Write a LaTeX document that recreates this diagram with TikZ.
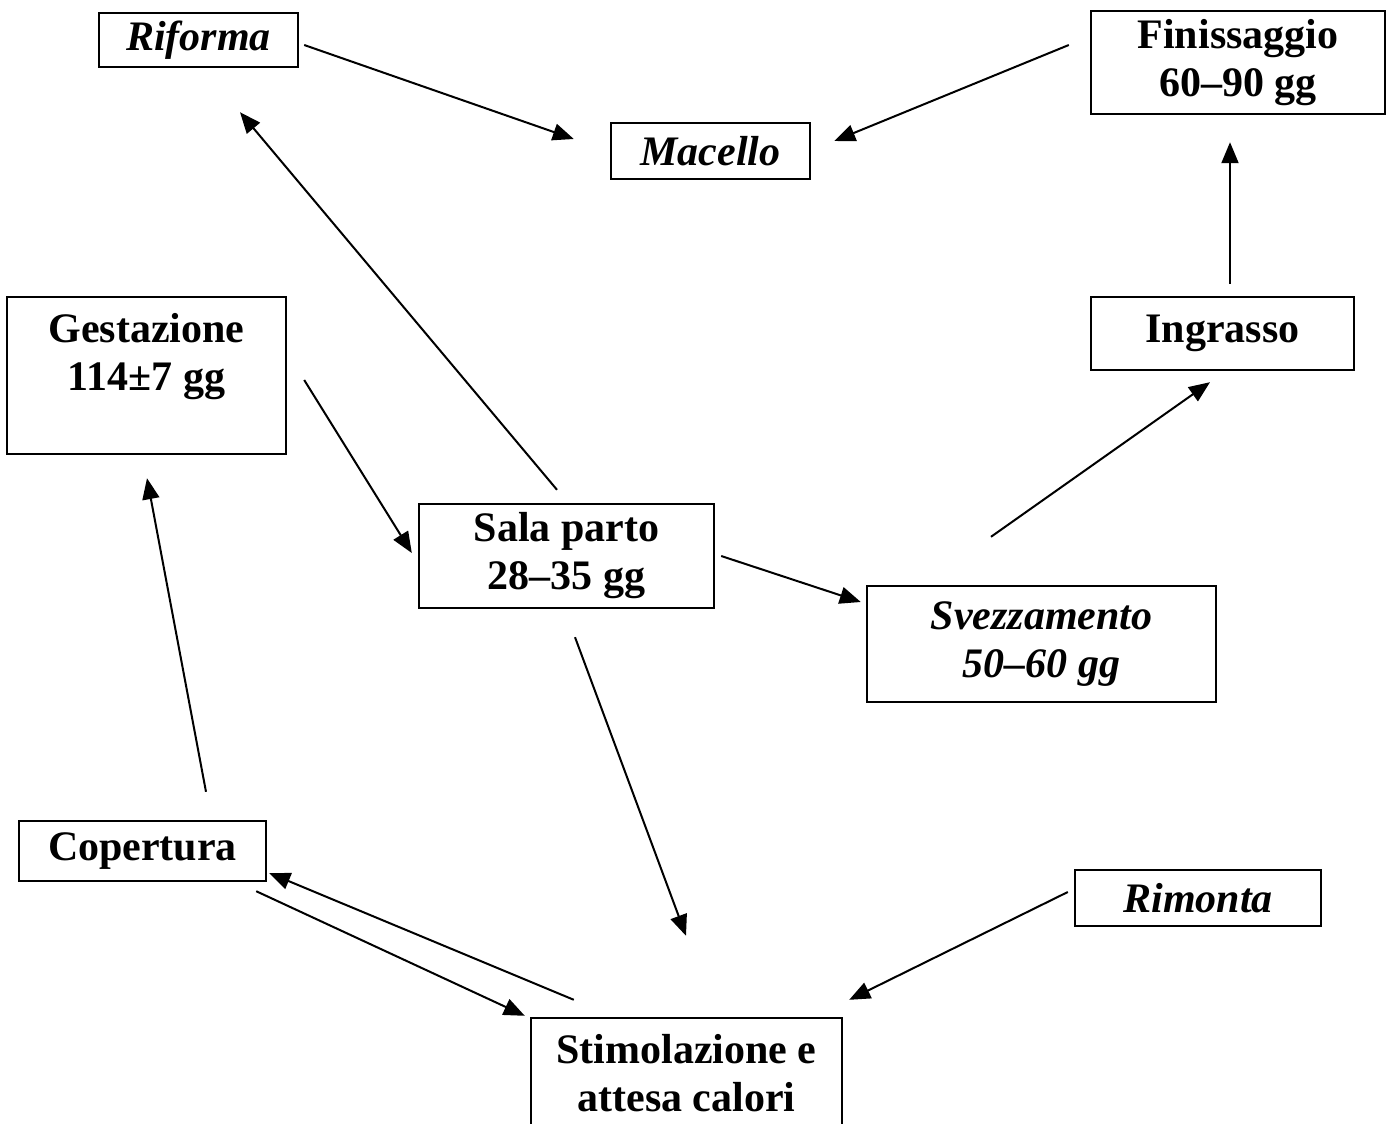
\documentclass[tikz,border=0pt]{standalone}
\usepackage{fontspec}
\setmainfont{Liberation Serif}
\usetikzlibrary{arrows.meta}
\begin{document}
\begin{tikzpicture}[x=1pt,y=-1pt,
  box/.style={draw,line width=2.4pt,inner sep=0pt,align=center,font=\fontsize{42}{48}\selectfont\bfseries},
  ibox/.style={box,font=\fontsize{42}{48}\selectfont\bfseries\itshape},
  arr/.style={line width=2pt,-{Triangle[length=21pt,width=17pt]}}]
\useasboundingbox (0,0) rectangle (1395,1124);
\clip (0,0) rectangle (1395,1124);
\fill[white] (0,0) rectangle (1395,1124);
\node[ibox,minimum width=199pt,minimum height=54pt] (rif) at (198.5,40) {Riforma};
\node[ibox,minimum width=199pt,minimum height=56pt] (mac) at (710.5,151) {Macello};
\node[box,minimum width=294pt,minimum height=103pt] (fin) at (1238,62.5) {Finissaggio\\60--90 gg};
\node[box,minimum width=279pt,minimum height=157pt] (gest) at (146.5,375.5) {Gestazione\\114±7 gg\\~};
\node[box,minimum width=263pt,minimum height=73pt] (ing) at (1222.5,333.5) {Ingrasso};
\node[box,minimum width=295pt,minimum height=104pt] (sala) at (566.5,556) {Sala parto\\28--35 gg};
\node[ibox,minimum width=349pt,minimum height=116pt] (svez) at (1041.5,644) {Svezzamento\\50--60 gg};
\node[box,minimum width=247pt,minimum height=60pt] (cop) at (142.5,851) {Copertura};
\node[ibox,minimum width=246pt,minimum height=56pt] (rim) at (1198,898) {Rimonta};
\node[box,minimum width=311pt,minimum height=110pt] (stim) at (686.5,1073) {Stimolazione e\\attesa calori};
\draw[arr] ([shift={(5,5)}]rif.east) -- ([shift={(-36,-12)}]mac.west);
\draw[arr] ([shift={(-21,-17.5)}]fin.west) -- ([shift={(23,-10)}]mac.east);
\draw[arr] ([shift={(7.5,-12)}]ing.north) -- ([shift={(-8,27)}]fin.south);
\draw[arr] ([shift={(-9.5,-13)}]sala.north) -- ([shift={(41.5,44)}]rif.south);
\draw[arr] ([shift={(17,4.5)}]gest.east) -- ([shift={(-6,-3)}]sala.west);
\draw[arr] ([shift={(6,0)}]sala.east) -- ([shift={(-5,-42)}]svez.west);
\draw[arr] ([shift={(-50.5,-48)}]svez.north) -- ([shift={(-12.5,11)}]ing.south);
\draw[arr] ([shift={(8.5,28)}]sala.south) -- ([shift={(-0.5,-81)}]stim.north);
\draw[arr] ([shift={(63.5,-28)}]cop.north) -- ([shift={(0.5,23)}]gest.south);
\draw[arr] ([shift={(-11,9)}]cop.south east) -- ([shift={(-5,-1)}]stim.north west);
\draw[arr] ([shift={(44,-17)}]stim.north west) -- ([shift={(2,22)}]cop.east);
\draw[arr] ([shift={(-6,-6)}]rim.west) -- ([shift={(6,-17)}]stim.north east);
\end{tikzpicture}
\end{document}
